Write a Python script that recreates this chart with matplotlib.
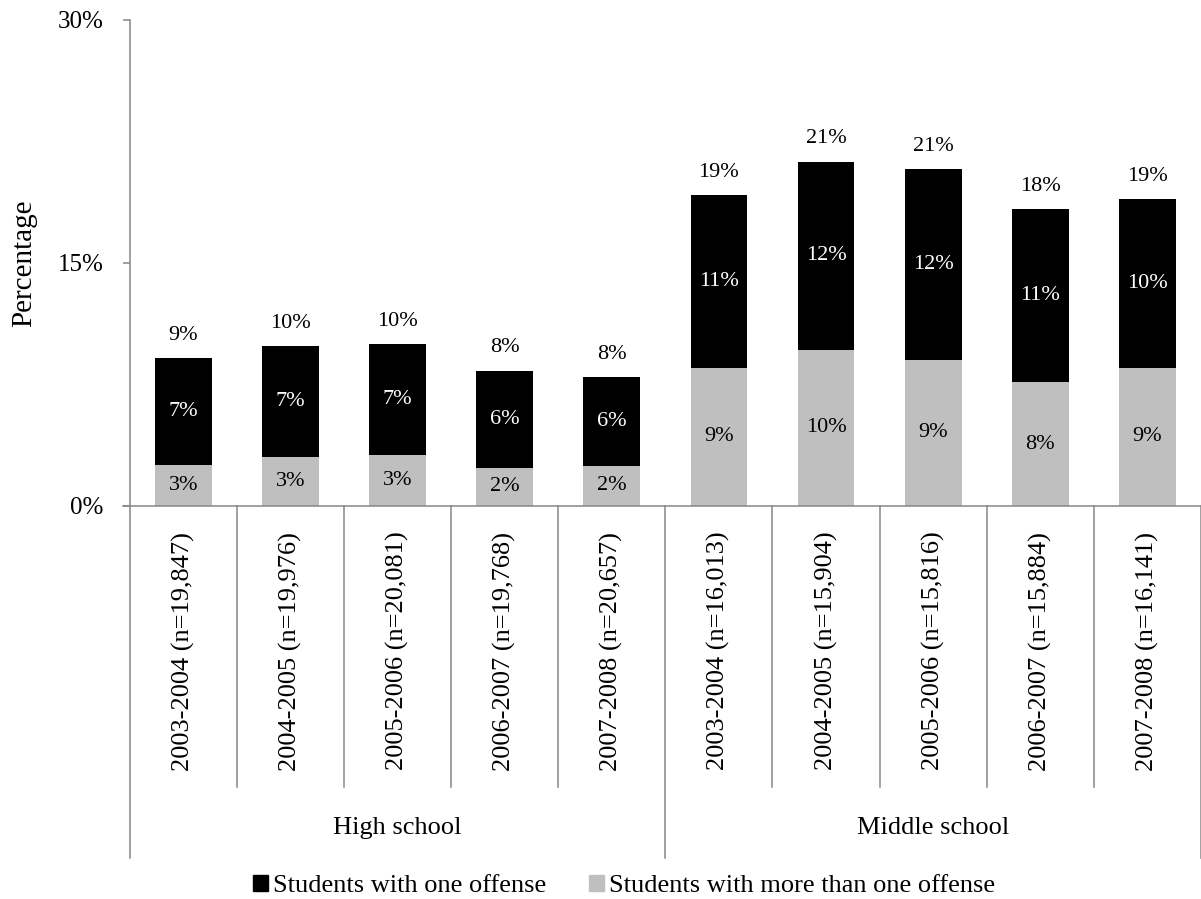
import matplotlib.pyplot as plt
from matplotlib.lines import Line2D
from matplotlib.patches import Patch
import numpy as np

plt.rcParams['font.family'] = ['Liberation Serif', 'DejaVu Serif']

schools = ["High school", "Middle school"]
years = ["2003-2004", "2004-2005", "2005-2006", "2006-2007", "2007-2008"]
n_students = ["19,847", "19,976", "20,081", "19,768", "20,657",
              "16,013", "15,904", "15,816", "15,884", "16,141"]

# percent of students, by school year (high school first, then middle school)
one_offense = [6.59, 6.90, 6.81, 6.02, 5.51, 10.68, 11.62, 11.79, 10.72, 10.41]
more_offense = [2.53, 2.98, 3.15, 2.33, 2.45, 8.52, 9.63, 9.01, 7.61, 8.52]

black = "#000000"
grey = "#BFBFBF"
axis_grey = "#868686"

one_offense = np.array(one_offense)
more_offense = np.array(more_offense)
totals = one_offense + more_offense
x = np.arange(len(one_offense))

W, H = 1201, 899
fig = plt.figure(figsize=(W / 100, H / 100), dpi=100)
left, right, top, base = 129.7, 1201, 20, 505.7
ax = fig.add_axes([left / W, 1 - base / H, (right - left) / W, (base - top) / H])

ax.bar(x, more_offense, 0.53, color=grey, label="Students with more than one offense")
ax.bar(x, one_offense, 0.53, bottom=more_offense, color=black, label="Students with one offense")

for i in x:
    ax.text(i, more_offense[i] / 2, f"{more_offense[i]:.0f}%", ha="center", va="center",
            fontsize=16, color="black")
    ax.text(i, more_offense[i] + one_offense[i] / 2, f"{one_offense[i]:.0f}%", ha="center",
            va="center", fontsize=16, color="white")
    ax.text(i, totals[i] + 1.4, f"{totals[i]:.0f}%", ha="center", va="center",
            fontsize=16, color="black")

ax.set_xlim(-0.5, len(x) - 0.5)
ax.set_ylim(0, 30)
ax.set_yticks([0, 15, 30])
ax.set_yticklabels(["0%", "15%", "30%"])
ax.set_xticks([])
ax.tick_params(axis="y", length=5, width=1.1, color=axis_grey, pad=14, labelsize=18)
for s in ["top", "right"]:
    ax.spines[s].set_visible(False)
for s in ["left", "bottom"]:
    ax.spines[s].set_color(axis_grey)
    ax.spines[s].set_linewidth(1.1)
ax.spines["bottom"].set_bounds(-0.5 - 7 / 107.1, len(x) - 0.5)

fig.text(24 / W, 1 - 263 / H, "Percentage", rotation=90, ha="center", va="center",
         fontsize=21)

# category axis: year labels, separators and school groups
trans = ax.get_xaxis_transform()
px = base - top
cat_end = -(786.7 - base) / px
grp_end = -(858.3 - base) / px
for i in x:
    ax.text(i, -(531.7 - base) / px, f"{years[i % 5]} (n={n_students[i]})",
            rotation=90, ha="center", va="top", fontsize=19, transform=trans)
for b in np.arange(-0.5, len(x), 1.0):
    end = grp_end if b in (-0.5, 4.5, 9.5) else cat_end
    ax.add_line(Line2D([b, b], [0, end], color=axis_grey, lw=1.1,
                       transform=trans, clip_on=False))
for g, name in enumerate(schools):
    ax.text(2 + 5 * g, -(828 - base) / px, name, ha="center", va="center",
            fontsize=19, transform=trans)

handles = [Patch(color=black, label="Students with one offense"),
           Patch(color=grey, label="Students with more than one offense")]
fig.legend(handles=handles, loc="center", bbox_to_anchor=(624 / W, 1 - 886 / H), ncol=2,
           frameon=False, fontsize=19, handlelength=0.58, handleheight=0.58,
           handletextpad=0.2, columnspacing=1.6, borderpad=0, borderaxespad=0)

fig.savefig("out.png", dpi=100)
